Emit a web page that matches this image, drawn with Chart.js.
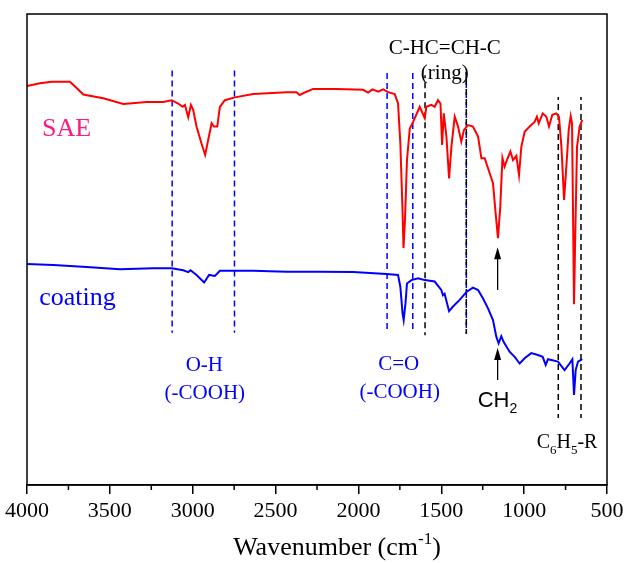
<!DOCTYPE html>
<html>
<head>
<meta charset="utf-8">
<script src="https://cdn.jsdelivr.net/npm/chart.js@4.4.0/dist/chart.umd.min.js"></script>
<style>
  html, body { margin: 0; padding: 0; background: #fff; }
</style>
</head>
<body>
<canvas id="ftir" width="630" height="563"></canvas>
<script>
// FTIR spectra: wavenumber (cm-1) vs transmittance (a.u., curves offset)
const wnSAE = [4000, 3922, 3851, 3741, 3710, 3660, 3540, 3419, 3278, 3178, 3127, 3088, 3061, 3047, 3027, 3011, 2997, 2977, 2947, 2925,
  2907, 2886, 2872, 2852, 2836, 2806, 2746, 2635, 2434, 2374, 2354, 2313, 2273, 2132, 1972, 1942, 1915, 1881, 1851, 1821,
  1781, 1761, 1747, 1734, 1728, 1719, 1707, 1690, 1670, 1630, 1600, 1590, 1560, 1540, 1520, 1505, 1495, 1485, 1469, 1453,
  1439, 1419, 1399, 1379, 1363, 1339, 1309, 1278, 1258, 1238, 1208, 1188, 1172, 1158, 1144, 1131, 1118, 1104, 1083, 1067,
  1047, 1031, 1017, 997, 967, 937, 923, 912, 888, 866, 850, 830, 806, 790, 775, 759, 744, 731, 719, 711,
  705, 699, 691, 681, 665, 649];
const tSAE = [84.7, 85.3, 85.6, 85.6, 84.6, 82.9, 82.1, 80.9, 81.3, 81.3, 81.7, 81.0, 80.3, 80.7, 78.1, 80.7, 79.6, 76.1, 72.5, 70.1,
  73.2, 76.8, 76.1, 76.1, 80.3, 81.7, 82.3, 83.0, 83.4, 83.4, 82.8, 83.5, 84.1, 84.1, 83.9, 83.3, 84.0, 83.5, 84.0, 83.4,
  83.0, 81.0, 72.5, 58.4, 50.3, 56.3, 69.0, 75.7, 77.1, 80.3, 77.9, 80.3, 80.7, 80.3, 81.7, 81.0, 72.2, 78.9, 74.0, 65.1,
  71.8, 78.2, 76.1, 72.9, 75.4, 76.4, 76.1, 74.0, 69.4, 69.4, 66.2, 64.1, 57.7, 52.4, 59.1, 69.4, 67.6, 69.0, 70.8, 69.0,
  69.9, 65.8, 71.8, 75.0, 76.1, 77.1, 78.2, 76.8, 78.9, 78.2, 76.1, 78.6, 78.9, 78.2, 71.8, 60.5, 68.3, 75.4, 78.3, 76.8,
  57.7, 38.4, 54.1, 71.8, 76.1, 77.5];

const wnCoating = [4000, 3841, 3640, 3439, 3238, 3127, 3057, 3027, 3013, 2977, 2931, 2901, 2866, 2836, 2635, 2434, 2233, 2032, 1831, 1761,
  1747, 1734, 1727, 1716, 1707, 1680, 1640, 1600, 1540, 1500, 1490, 1480, 1453, 1429, 1389, 1348, 1309, 1278, 1248, 1218,
  1188, 1168, 1154, 1138, 1124, 1088, 1057, 1027, 997, 957, 917, 888, 870, 856, 796, 756, 726, 709, 699, 689,
  675, 649];
const tCoating = [46.9, 46.7, 46.3, 45.8, 46.0, 46.0, 45.6, 45.2, 45.6, 44.6, 43.0, 44.6, 44.4, 45.5, 45.5, 45.3, 45.3, 45.2, 44.8, 44.6,
  42.1, 36.5, 35.0, 38.6, 42.8, 43.5, 43.9, 43.5, 43.2, 41.4, 40.3, 40.6, 36.9, 37.9, 39.3, 41.0, 41.9, 41.4, 39.6, 37.5,
  35.0, 31.5, 30.1, 31.6, 30.4, 28.3, 27.2, 25.8, 26.9, 28.0, 27.6, 27.2, 25.5, 26.7, 26.2, 24.4, 25.8, 26.7, 19.1, 24.4,
  26.2, 26.7];

// band marker lines (wavenumber, top, bottom)
const blueGuideWn = [3124, 2748, 1827, 1672, 1349];
const blueGuideTop = [88.0, 88.0, 87.5, 87.5, 87.7];
const blueGuideBottom = [32.3, 32.3, 33.1, 33.1, 32.1];
const blackGuideWn = [1598, 1349, 794, 657];
const blackGuideTop = [87.0, 87.7, 82.4, 82.4];
const blackGuideBottom = [31.8, 32.1, 14.2, 14.2];

// CH2 arrows
const arrowWn = [1160, 1160];
const arrowTail = [41.4, 22.3];
const arrowTip = [50.5, 29.1];

const minorTicks = [3750, 3250, 2750, 2250, 1750, 1250, 750];

const SERIF = '"Liberation Serif", "Times New Roman", serif';
const SANS = '"Liberation Sans", Arial, sans-serif';

const notes = [
  { parts: [['SAE']], wn: 3761, t: 74.1, size: 26, family: SERIF, color: '#ff1a80' },
  { parts: [['coating']], wn: 3695, t: 38.2, size: 26, family: SERIF, color: '#0000ff' },
  { parts: [['O-H']], wn: 2930, t: 24.2, size: 21, family: SERIF, color: '#0000ff' },
  { parts: [['(-COOH)']], wn: 2927, t: 18.3, size: 21, family: SERIF, color: '#0000ff' },
  { parts: [['C=O']], wn: 1757, t: 24.4, size: 21, family: SERIF, color: '#0000ff' },
  { parts: [['(-COOH)']], wn: 1751, t: 18.5, size: 21, family: SERIF, color: '#0000ff' },
  { parts: [['CH'], ['2', 'sub']], wn: 1161, t: 16.6, size: 22, family: SANS, color: '#000' },
  { parts: [['C-HC=CH-C']], wn: 1479, t: 91.6, size: 21, family: SERIF, color: '#000' },
  { parts: [['(ring)']], wn: 1479, t: 86.2, size: 21, family: SERIF, color: '#000' },
  { parts: [['C'], ['6', 'sub'], ['H'], ['5', 'sub'], ['-R']], wn: 741, t: 7.9, size: 20, family: SERIF, color: '#000' }
];

function drawRich(ctx, parts, cx, y, size, family, color) {
  const fontFor = p => (p[1] ? Math.round(size * 0.65) : size) + 'px ' + family;
  let total = 0;
  parts.forEach(p => { ctx.font = fontFor(p); total += ctx.measureText(p[0]).width; });
  let x = cx - total / 2;
  ctx.fillStyle = color;
  ctx.textBaseline = 'alphabetic';
  ctx.textAlign = 'left';
  parts.forEach(p => {
    ctx.font = fontFor(p);
    let dy = 0;
    if (p[1] === 'sub') dy = size * 0.3;
    if (p[1] === 'sup') dy = -size * 0.42;
    ctx.fillText(p[0], x, y + dy);
    x += ctx.measureText(p[0]).width;
  });
}

const overlay = {
  id: 'overlay',
  afterDatasetsDraw(chart) {
    const { ctx, chartArea: a, scales: { x, y } } = chart;
    ctx.save();
    ctx.strokeStyle = '#000';
    ctx.lineWidth = 1.5;
    ctx.strokeRect(a.left, a.top, a.right - a.left, a.bottom - a.top);
    minorTicks.forEach(v => {
      const px = x.getPixelForValue(v);
      ctx.beginPath();
      ctx.moveTo(px, a.bottom);
      ctx.lineTo(px, a.bottom + 5);
      ctx.stroke();
    });
    ctx.fillStyle = '#000';
    arrowWn.forEach((w, i) => {
      const px = x.getPixelForValue(w), py = y.getPixelForValue(arrowTip[i]);
      ctx.beginPath();
      ctx.moveTo(px, py);
      ctx.lineTo(px - 3.5, py + 12);
      ctx.lineTo(px + 3.5, py + 12);
      ctx.closePath();
      ctx.fill();
    });
    notes.forEach(n => drawRich(ctx, n.parts, x.getPixelForValue(n.wn), y.getPixelForValue(n.t), n.size, n.family, n.color));
    // axis title with superscript
    drawRich(ctx, [['Wavenumber (cm'], ['-1', 'sup'], [')']], 337, chart.height - 8, 26, SERIF, '#000');
    ctx.restore();
  }
};

function xy(wn, t) {
  return wn.map((w, i) => ({ x: w, y: t[i] }));
}

const datasets = [
  { data: xy(wnSAE, tSAE), borderColor: '#ff0000', borderWidth: 2, order: 0 },
  { data: xy(wnCoating, tCoating), borderColor: '#0000ff', borderWidth: 2, order: 0 }
];
blueGuideWn.forEach((w, i) => {
  datasets.push({ data: [{ x: w, y: blueGuideTop[i] }, { x: w, y: blueGuideBottom[i] }],
    borderColor: '#0000ff', borderWidth: 1.5, borderDash: [6, 4], order: 2 });
});
blackGuideWn.forEach((w, i) => {
  datasets.push({ data: [{ x: w, y: blackGuideTop[i] }, { x: w, y: blackGuideBottom[i] }],
    borderColor: '#000', borderWidth: 1.5, borderDash: [6, 4], borderDashOffset: 3, order: 1 });
});
arrowWn.forEach((w, i) => {
  datasets.push({ data: [{ x: w, y: arrowTail[i] }, { x: w, y: arrowTip[i] - 2 }],
    borderColor: '#000', borderWidth: 1.3, order: 1 });
});

new Chart(document.getElementById('ftir'), {
  type: 'line',
  data: { datasets: datasets },
  options: {
    responsive: false,
    animation: false,
    layout: { padding: { left: 27, right: 23, top: 14, bottom: 0 } },
    elements: { point: { radius: 0 }, line: { tension: 0, fill: false } },
    plugins: { legend: { display: false }, tooltip: { enabled: false } },
    scales: {
      x: {
        type: 'linear',
        reverse: true,
        min: 500,
        max: 4000,
        afterFit: s => { s.height = 78; },
        ticks: {
          stepSize: 500,
          autoSkip: false,
          maxRotation: 0,
          padding: 4,
          color: '#000',
          font: { family: SERIF, size: 22 },
          callback: v => String(v)
        },
        grid: { drawOnChartArea: false, tickLength: 9, color: '#000', lineWidth: 1.5 },
        border: { display: true, color: '#000', width: 1.5 }
      },
      y: { display: false, min: 0, max: 100 }
    }
  },
  plugins: [overlay]
});
</script>
</body>
</html>
